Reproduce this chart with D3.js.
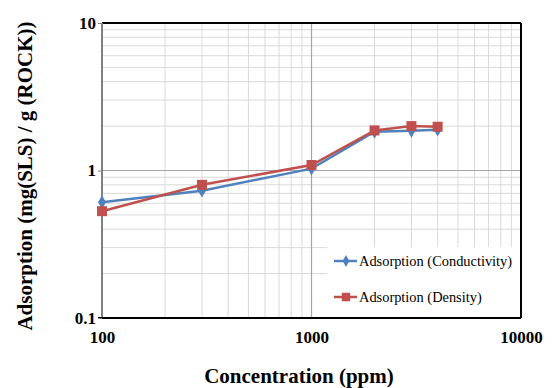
<!DOCTYPE html>
<html>
<head>
<meta charset="utf-8">
<script src="https://cdn.jsdelivr.net/npm/d3@7"></script>
<style>
  body { margin: 0; background: #fff; }
  svg { display: block; font-family: "Liberation Serif", "Times New Roman", serif; }
</style>
</head>
<body>
<div id="chart"></div>
<script>
// concentration (ppm) and adsorption
const concentration = [100, 300, 1000, 2000, 3000, 4000];
const conductivity = [0.61, 0.73, 1.03, 1.83, 1.86, 1.89];
const density = [0.53, 0.80, 1.09, 1.87, 2.00, 1.98];
const seriesNames = ["Adsorption (Conductivity)", "Adsorption (Density)"];
const xTicks = [100, 1000, 10000];
const yTicks = [0.1, 1, 10];

const width = 553, height = 388;
const margin = { top: 23, right: 32, bottom: 70, left: 102 };
const iw = width - margin.left - margin.right;
const ih = height - margin.top - margin.bottom;

const svg = d3.select("#chart").append("svg")
    .attr("width", width)
    .attr("height", height);

const x = d3.scaleLog().domain([100, 10000]).range([0, iw]);
const y = d3.scaleLog().domain([0.1, 10]).range([ih, 0]);

const g = svg.append("g")
    .attr("transform", `translate(${margin.left},${margin.top})`);

// grid lines: every 1..9 per decade
const minorX = [], minorY = [];
[100, 1000].forEach(d => { for (let k = 2; k <= 9; k++) minorX.push(d * k); });
[0.1, 1].forEach(d => { for (let k = 2; k <= 9; k++) minorY.push(d * k); });

g.selectAll(".gx").data(minorX).enter().append("line")
    .attr("x1", d => x(d)).attr("x2", d => x(d))
    .attr("y1", 0).attr("y2", ih)
    .attr("stroke", "#d9d9d9").attr("stroke-width", 1);
g.selectAll(".gy").data(minorY).enter().append("line")
    .attr("x1", 0).attr("x2", iw)
    .attr("y1", d => y(d)).attr("y2", d => y(d))
    .attr("stroke", "#d9d9d9").attr("stroke-width", 1);

// major grid
g.append("line")
    .attr("x1", x(1000)).attr("x2", x(1000)).attr("y1", 0).attr("y2", ih)
    .attr("stroke", "#a6a6a6").attr("stroke-width", 1.2);
g.append("line")
    .attr("x1", 0).attr("x2", iw).attr("y1", y(1)).attr("y2", y(1))
    .attr("stroke", "#a6a6a6").attr("stroke-width", 1.2);

// legend box (covers grid)
const lg = g.append("g").attr("transform", `translate(${iw - 194},${ih - 71})`);
lg.append("rect")
    .attr("width", 194).attr("height", 71)
    .attr("fill", "#fff");

// frame
g.append("line").attr("x1", 0).attr("x2", iw).attr("y1", 0).attr("y2", 0)
    .attr("stroke", "#000").attr("stroke-width", 2);
g.append("line").attr("x1", iw).attr("x2", iw).attr("y1", 0).attr("y2", ih)
    .attr("stroke", "#000").attr("stroke-width", 2);
g.append("line").attr("x1", 0).attr("x2", 0).attr("y1", 0).attr("y2", ih)
    .attr("stroke", "#808080").attr("stroke-width", 2);
g.append("line").attr("x1", -4).attr("x2", iw).attr("y1", ih).attr("y2", ih)
    .attr("stroke", "#000").attr("stroke-width", 2);

// axes
const xAxis = d3.axisBottom(x).tickValues(xTicks).tickFormat(d3.format("d")).tickSize(0).tickPadding(13);
const yAxis = d3.axisLeft(y).tickValues(yTicks).tickFormat(d => d).tickSize(4).tickPadding(2);

g.append("g").attr("transform", `translate(0,${ih})`).call(xAxis)
    .call(a => a.select(".domain").remove())
    .selectAll("text").attr("font-size", 17).attr("font-weight", "bold")
    .attr("font-family", "Liberation Serif").attr("fill", "#000");
g.append("g").call(yAxis)
    .call(a => a.select(".domain").remove())
    .call(a => a.selectAll("line").attr("stroke", "#808080"))
    .selectAll("text").attr("font-size", 17).attr("font-weight", "bold")
    .attr("font-family", "Liberation Serif").attr("fill", "#000");

// series
const colors = ["#4f81bd", "#c0504d"];
const series = [conductivity, density];
const line = d3.line().x(d => x(d[0])).y(d => y(d[1]));

series.forEach((vals, i) => {
    const pts = concentration.map((c, j) => [c, vals[j]]);
    g.append("path")
        .datum(pts)
        .attr("d", line)
        .attr("fill", "none")
        .attr("stroke", colors[i])
        .attr("stroke-width", 2.5);
});

const diamond = d3.symbol().type(d3.symbolDiamond).size(55);
const square = d3.symbol().type(d3.symbolSquare).size(100);
const shapes = [diamond, square];

series.forEach((vals, i) => {
    g.selectAll(".m" + i)
        .data(concentration.map((c, j) => [c, vals[j]]))
        .enter().append("path")
        .attr("d", shapes[i])
        .attr("transform", d => `translate(${x(d[0])},${y(d[1])})`)
        .attr("fill", colors[i]);
});

// legend entries
const legendShapes = [d3.symbol().type(d3.symbolDiamond).size(40), d3.symbol().type(d3.symbolSquare).size(72)];
seriesNames.forEach((name, i) => {
    const row = lg.append("g").attr("transform", `translate(7,${14 + i * 36})`);
    row.append("line").attr("x1", 0).attr("x2", 23).attr("y1", 0).attr("y2", 0)
        .attr("stroke", colors[i]).attr("stroke-width", 2.5);
    row.append("path").attr("d", legendShapes[i]).attr("transform", "translate(12,0)")
        .attr("fill", colors[i]);
    row.append("text").attr("x", 25).attr("y", 5)
        .attr("font-size", 14.4).attr("fill", "#000")
        .text(name);
});

// axis titles
svg.append("text")
    .attr("x", 299).attr("y", 383)
    .attr("text-anchor", "middle")
    .attr("font-size", 21).attr("font-weight", "bold")
    .text("Concentration (ppm)");

svg.append("text")
    .attr("transform", "translate(32,176) rotate(-90)")
    .attr("text-anchor", "middle")
    .attr("font-size", 21).attr("font-weight", "bold")
    .text("Adsorption (mg(SLS) / g (ROCK))");
</script>
</body>
</html>
